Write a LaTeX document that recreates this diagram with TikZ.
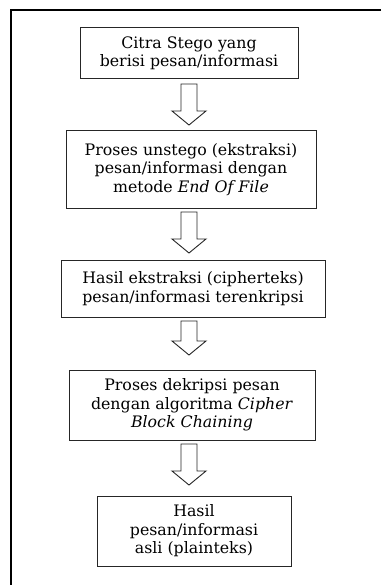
\documentclass[tikz,border=0pt]{standalone}
\usepackage{fontspec}
\setmainfont{DejaVu Serif}
\usetikzlibrary{calc}
\tikzset{
  box/.style={draw=black!85, line width=1pt, align=center, inner sep=0pt,
    font=\fontsize{15.8}{18.5}\selectfont},
  frameline/.style={draw=black, line width=2pt},
  arrowline/.style={draw=black!85, line width=0.9pt, line join=miter, fill=white},
}
\newcommand{\hollowarrow}[2]{%
  \draw[arrowline] let \p1=(#1), \p2=(#2) in
    (\x1-8pt,\y1) -- (\x1-8pt,\y2+14pt) -- (\x1-17pt,\y2+14pt) -- (\x2,\y2)
    -- (\x1+17pt,\y2+14pt) -- (\x1+8pt,\y2+14pt) -- (\x1+8pt,\y1) -- cycle;}
\begin{document}
\begin{tikzpicture}[x=1pt,y=-1pt]
\useasboundingbox (0,0) rectangle (381,585);
\fill[white] (0,0) rectangle (381,585);
\coordinate (ftr) at (381,10);
\coordinate (ftl) at (11,10);
\coordinate (fbl) at (11,585);
\draw[frameline] (ftr) -- (ftl) -- (fbl);

\node[box, minimum width=218pt, minimum height=51pt] (b1) at (189,53.5)
  {Citra Stego yang\\berisi pesan/informasi};
\node[box, minimum width=250pt, minimum height=77pt] (b2) at (191,169.5)
  {Proses unstego (ekstraksi)\\pesan/informasi dengan\\metode \textit{End Of File}};
\node[box, minimum width=264pt, minimum height=57pt] (b3) at (193,288.5)
  {Hasil ekstraksi (cipherteks)\\pesan/informasi terenkripsi};
\node[box, minimum width=246pt, minimum height=70pt] (b4) at (192,405)
  {Proses dekripsi pesan\\dengan algoritma \textit{Cipher}\\\textit{Block Chaining}};
\node[box, minimum width=194pt, minimum height=70pt] (b5) at (194,531)
  {Hasil\\pesan/informasi\\asli (plainteks)};

\coordinate (a1s) at (189,84);  \coordinate (a1e) at (189,125);
\coordinate (a2s) at (189,212); \coordinate (a2e) at (189,253);
\coordinate (a3s) at (189,321); \coordinate (a3e) at (189,355);
\coordinate (a4s) at (189,444); \coordinate (a4e) at (189,485);
\hollowarrow{a1s}{a1e}
\hollowarrow{a2s}{a2e}
\hollowarrow{a3s}{a3e}
\hollowarrow{a4s}{a4e}
\end{tikzpicture}
\end{document}
